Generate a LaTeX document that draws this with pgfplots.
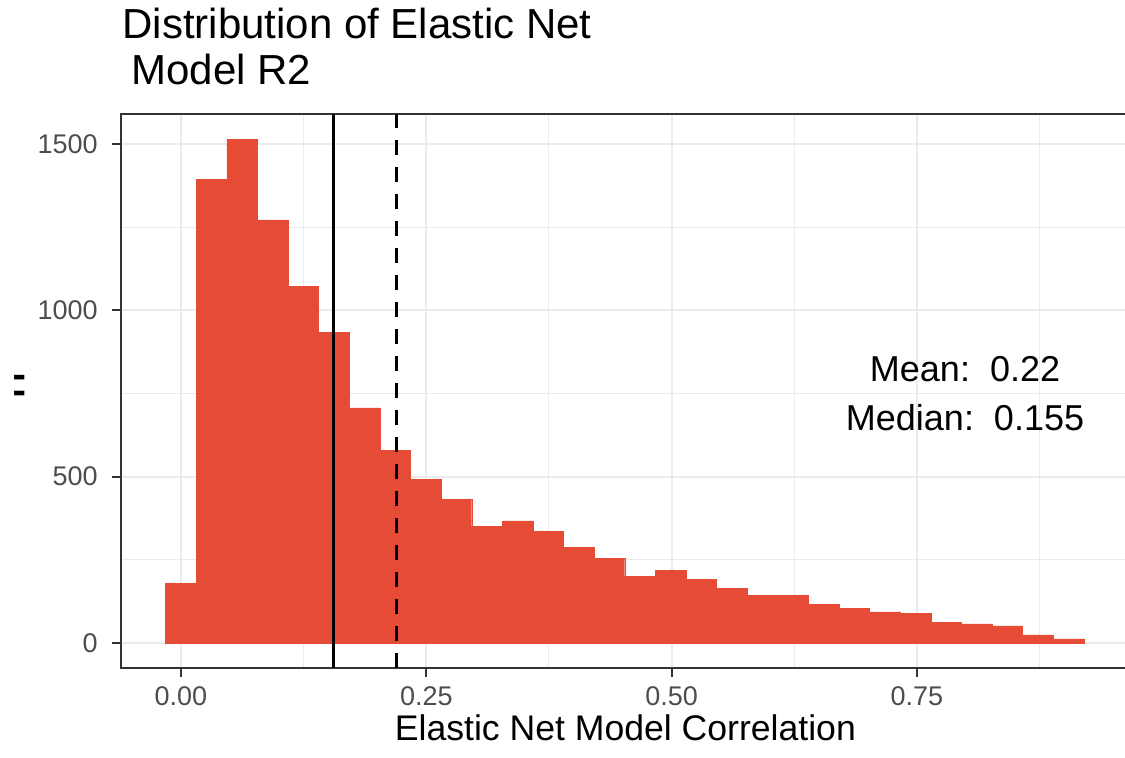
\documentclass[border=0pt]{standalone}
\usepackage{fontspec}
\setmainfont{Liberation Sans}
\usepackage{graphicx}
\usepackage{pgfplots}
\pgfplotsset{compat=1.18}

\definecolor{barred}{HTML}{E64B35}
\definecolor{gridgrey}{HTML}{EBEBEB}
\definecolor{bordergrey}{HTML}{333333}
\definecolor{ticktext}{HTML}{4D4D4D}

% Histogram of model correlations: left bin edges and counts (30 bins),
% the final row closes the last interval.
\pgfplotstableread{
edge      count
-0.01559  178
0.01559   1395
0.04678   1515
0.07797   1272
0.10915   1073
0.14034   933
0.17153   707
0.20272   578
0.23390   491
0.26509   431
0.29628   350
0.32747   367
0.35865   335
0.38984   287
0.42103   254
0.45222   201
0.48340   217
0.51459   190
0.54578   164
0.57697   143
0.60815   143
0.63934   116
0.67053   104
0.70172   93
0.73290   89
0.76409   62
0.79528   57
0.82647   51
0.85765   24
0.88884   12
0.92003   12
}\histdata

\begin{document}
\begin{tikzpicture}
\begin{axis}[
  at={(0,0)}, anchor=south west,
  scale only axis, width=504.4pt, height=277pt,
  xmin=-0.0611, xmax=0.9669, ymin=-75.75, ymax=1590.75,
  xtick={0,0.25,0.5,0.75},
  xticklabels={0.00,0.25,0.50,0.75},
  minor xtick={0.125,0.375,0.625,0.875},
  ytick={0,500,1000,1500},
  yticklabels={0,500,1000,1500},
  minor ytick={250,750,1250},
  grid=both,
  major grid style={draw=gridgrey, line width=1pt},
  minor grid style={draw=gridgrey, line width=0.5pt},
  tick align=outside,
  major tick length=4.5pt,
  minor tick length=0pt,
  tick style={draw=bordergrey, line width=1pt},
  axis line style={draw=bordergrey, line width=1.1pt},
  xtick pos=bottom, ytick pos=left,
  /pgf/number format/assume math mode=true,
  ticklabel style={font=\fontsize{13.5}{16}\selectfont, text=ticktext, inner sep=0pt},
  xticklabel style={anchor=north, yshift=-4.5pt},
  yticklabel style={anchor=east, xshift=-7pt},
  xlabel={Elastic Net Model Correlation},
  xlabel style={font=\fontsize{17.8}{20}\selectfont, at={(axis description cs:0.5,-0.13)}, anchor=base, inner sep=0pt},
  ylabel={\scalebox{1}[3]{=}},
  every axis y label/.style={font=\fontsize{10.6}{12}\selectfont, at={(axis description cs:-0.1001,0.5)}, anchor=center, inner sep=0pt},
]
\addplot[ybar interval, fill=barred, draw=barred, line width=0.2pt] table[x=edge, y=count] {\histdata};
% median
\addplot[black, line width=1.5pt] coordinates {(0.155,-75.75) (0.155,1590.75)};
% mean
\addplot[black, line width=1.5pt, dash pattern=on 7.5pt off 6pt] coordinates {(0.22,-75.75) (0.22,1590.75)};
\node[font=\fontsize{18}{20}\selectfont, anchor=base] at (axis cs:0.799,786) {Mean:\ \ 0.22};
\node[font=\fontsize{18}{20}\selectfont, anchor=base] at (axis cs:0.799,639) {Median:\ \ 0.155};
\end{axis}
\node[font=\fontsize{21}{24}\selectfont, anchor=base west, inner sep=0pt] at (0.5pt,314.5pt) {Distribution of Elastic Net};
\node[font=\fontsize{21}{24}\selectfont, anchor=base west, inner sep=0pt] at (5pt,291.5pt) {Model R2};
\pgfresetboundingbox
\useasboundingbox (-60.5pt,-44.5pt) rectangle (502pt,334pt);
\end{tikzpicture}
\end{document}
